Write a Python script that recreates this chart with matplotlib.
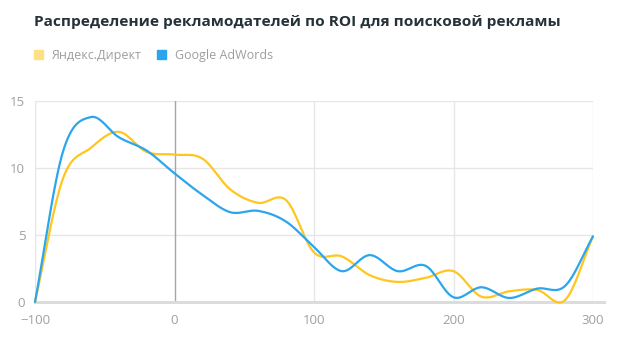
import numpy as np
import matplotlib
matplotlib.use("Agg")
import matplotlib.pyplot as plt

# ROI buckets (x) and share of advertisers, %
roi = [-100, -80, -60, -40, -20, 0, 20, 40, 60, 80, 100,
       120, 140, 160, 180, 200, 220, 240, 260, 280, 300]
yandex = [0.0, 9.2, 11.5, 12.7, 11.2, 11.0, 10.7, 8.4, 7.4, 7.6, 3.7,
          3.4, 2.0, 1.5, 1.8, 2.3, 0.4, 0.8, 0.9, 0.15, 4.9]
google = [0.0, 11.2, 13.8, 12.3, 11.3, 9.6, 8.0, 6.7, 6.8, 6.0, 4.1,
          2.3, 3.5, 2.3, 2.7, 0.35, 1.1, 0.3, 1.0, 1.2, 4.9]
series_names = ["Яндекс.Директ", "Google AdWords"]
x_ticks = [-100, 0, 100, 200, 300]
y_ticks = [0, 5, 10, 15]


def smooth(x, y, n=30):
    # catmull-rom, roughly what excel does for "smoothed line"
    x = np.asarray(x, float)
    y = np.asarray(y, float)
    px = np.concatenate([[2 * x[0] - x[1]], x, [2 * x[-1] - x[-2]]])
    py = np.concatenate([[2 * y[0] - y[1]], y, [2 * y[-1] - y[-2]]])
    xs, ys = [], []
    t = np.linspace(0, 1, n, endpoint=False)
    for i in range(1, len(px) - 2):
        for arr, a in ((xs, px), (ys, py)):
            a0, a1, a2, a3 = a[i - 1], a[i], a[i + 1], a[i + 2]
            arr.append(0.5 * (2 * a1 + (-a0 + a2) * t
                              + (2 * a0 - 5 * a1 + 4 * a2 - a3) * t ** 2
                              + (-a0 + 3 * a1 - 3 * a2 + a3) * t ** 3))
    xs.append([x[-1]])
    ys.append([y[-1]])
    return np.concatenate(xs), np.concatenate(ys)


plt.rcParams["font.family"] = ["Open Sans", "DejaVu Sans"]

fig = plt.figure(figsize=(6.28, 3.51), dpi=100)
ax = fig.add_axes([35 / 628, 1 - 302 / 351, 558 / 628, 201 / 351])

grey_grid = "#e6e6e6"
for v in y_ticks[1:]:
    ax.axhline(v, color=grey_grid, lw=1, zorder=0)
for v in x_ticks:
    if v == 0:
        ax.axvline(v, color="#a6a6a6", lw=1, zorder=1)
    else:
        ax.axvline(v, color=grey_grid, lw=1, zorder=0)
ax.plot([-100, 308], [0, 0], color="#dcdcdc", lw=2.2, clip_on=False, zorder=1)

line_colors = ["#ffc61e", "#2ba6ee"]
for ys_, c in zip([yandex, google], line_colors):
    sx, sy = smooth(roi, ys_)
    ax.plot(sx, sy, color=c, lw=1.6, zorder=3, clip_on=False, solid_capstyle="round")

ax.set_xlim(-100, 300)
ax.set_ylim(0, 15)
ax.set_xticks(x_ticks)
ax.set_yticks(y_ticks)
for s in ax.spines.values():
    s.set_visible(False)
ax.tick_params(length=0, colors="#a0a0a0", labelsize=9.5)
ax.tick_params(axis="x", pad=9)
ax.tick_params(axis="y", pad=7)

fig.text(34 / 628, 1 - 22 / 351, "Распределение рекламодателей по ROI для поисковой рекламы",
         fontsize=11.1, fontweight="bold", color="#263238", va="center", ha="left")

# legend drawn by hand: small squares + grey labels
leg_sq = ["#ffe082", "#2ba6ee"]
leg_x = [34, 157]
for name, c, lx in zip(series_names, leg_sq, leg_x):
    fig.patches.append(plt.Rectangle((lx / 628, 1 - 59 / 351), 9 / 628, 9 / 351,
                                     transform=fig.transFigure, color=c))
    fig.text((lx + 18) / 628, 1 - 55 / 351, name, fontsize=9, color="#9e9e9e",
             va="center", ha="left")

fig.savefig("out.png", dpi=100)
